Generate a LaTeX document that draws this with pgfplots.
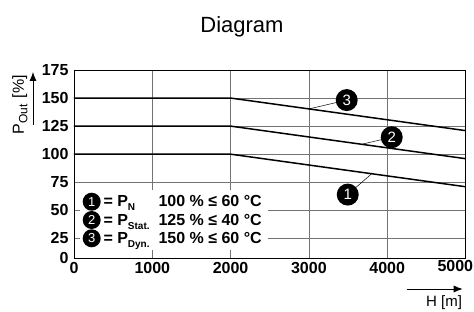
\documentclass[border=0pt]{standalone}
\usepackage{fontspec}
\setmainfont{Liberation Sans}
\usepackage{pgfplots}
\pgfplotsset{compat=1.18}
\usetikzlibrary{arrows.meta}
\tikzset{
  bigc/.style={circle,fill=black,text=white,inner sep=0pt,minimum size=22pt,font=\fontsize{15}{15}\selectfont},
  smallc/.style={circle,fill=black,text=white,inner sep=0pt,minimum size=18pt,font=\fontsize{13}{13}\selectfont}
}
\newcommand{\sub}[1]{\raisebox{-4pt}{\fontsize{10}{10}\selectfont\bfseries #1}}
\begin{document}
\begin{tikzpicture}[x=1pt,y=1pt]
\path[use as bounding box] (-74,-53) rectangle (400,258);
\begin{axis}[
  at={(0pt,0pt)}, anchor=south west,
  scale only axis, width=391.5pt, height=188pt,
  xmin=0, xmax=5000, ymin=7.5, ymax=175,
  xtick={0,1000,2000,3000,4000,5000},
  xticklabels={0,1000,2000,3000,4000,{}},
  ytick={7.5,25,50,75,100,125,150,175},
  yticklabels={0,25,50,75,100,125,150,175},
  grid=major, major grid style={black!55, line width=0.5pt},
  major tick length=0pt,
  axis line style={black, line width=0.9pt},
  tick label style={font=\fontsize{16}{16}\selectfont\bfseries},
  yticklabel style={xshift=-2pt},
  xticklabel style={yshift=-1pt},
  clip=false,
]
\addplot[black, line width=1.5pt] coordinates {(0,150) (2000,150) (5000,121)};
\addplot[black, line width=1.5pt] coordinates {(0,125) (2000,125) (5000,96)};
\addplot[black, line width=1.5pt] coordinates {(0,100) (2000,100) (5000,71)};
\draw[black, line width=0.5pt] (axis cs:3000,140.3) -- (axis cs:3483,148.2);
\node[bigc] at (axis cs:3483,148.2) {3};
\draw[black, line width=0.5pt] (axis cs:3674,108.8) -- (axis cs:4058,115.1);
\node[bigc] at (axis cs:4058,115.1) {2};
\draw[black, line width=0.5pt] (axis cs:3802,82.6) -- (axis cs:3496,64.0);
\node[bigc] at (axis cs:3496,64.0) {1};
\end{axis}
% last x tick label, pulled in as in the reference
\node[anchor=base east, font=\fontsize{16}{16}\selectfont\bfseries, inner sep=0] at (399.3,-13.3) {5000};
% legend box
\fill[white] (6,8) rectangle (194,68);
\foreach \n/\b in {1/51.3, 2/33, 3/14.7}{
  \node[smallc] at (17.7,\b+5) {\n};
}
\node[anchor=base west, font=\fontsize{16}{16}\selectfont\bfseries, inner sep=0] at (29.3,51.3) {= P\sub{N}};
\node[anchor=base west, font=\fontsize{16}{16}\selectfont\bfseries, inner sep=0] at (29.3,33) {= P\sub{Stat.}};
\node[anchor=base west, font=\fontsize{16}{16}\selectfont\bfseries, inner sep=0] at (29.3,14.7) {= P\sub{Dyn.}};
\node[anchor=base west, font=\fontsize{16}{16}\selectfont\bfseries, inner sep=0] at (84.3,51.3) {100 \% ≤ 60 °C};
\node[anchor=base west, font=\fontsize{16}{16}\selectfont\bfseries, inner sep=0] at (84.3,33) {125 \% ≤ 40 °C};
\node[anchor=base west, font=\fontsize{16}{16}\selectfont\bfseries, inner sep=0] at (84.3,14.7) {150 \% ≤ 60 °C};
% y label
\node[rotate=90, font=\fontsize{16}{16}\selectfont, inner sep=0] at (-54,153.5) {P\raisebox{-3.5pt}{\fontsize{12}{12}\selectfont Out}\hspace{6pt}[\%]};
\draw[-{Latex[length=9pt,width=7pt]}, line width=0.8pt] (-41,133) -- (-41,186);
% x label
\node[anchor=base west, font=\fontsize{15}{15}\selectfont, inner sep=0] at (352,-48.7) {H [m]};
\draw[-{Latex[length=9pt,width=7pt]}, line width=0.8pt] (332.7,-31) -- (388.7,-31);
% title
\node[anchor=base, font=\fontsize{22}{22}\selectfont, inner sep=0] at (168,225) {Diagram};
\end{tikzpicture}
\end{document}
